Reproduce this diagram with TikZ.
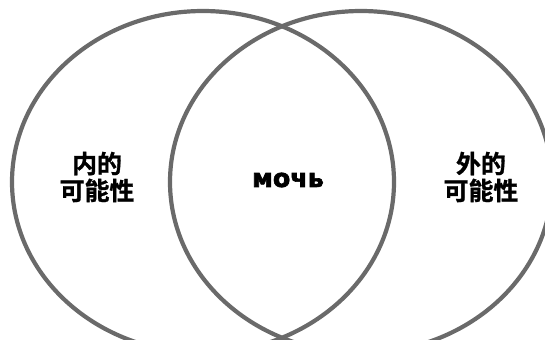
\documentclass[tikz,border=0pt]{standalone}
\usepackage{fontspec}
\newfontfamily\cjk{Noto Sans CJK SC Bold}[FakeBold=1.2]
\newfontfamily\heavy{DejaVu Sans Bold}[FakeBold=2.5]
\definecolor{ring}{HTML}{6A6A6A}
\tikzset{
  ring/.style={draw=ring, line width=4.2bp},
  cjklabel/.style={font=\cjk\fontsize{25}{27}\selectfont, align=center, inner sep=0pt},
  midlabel/.style={font=\heavy\fontsize{25.5}{28}\selectfont, inner sep=0pt}
}
\begin{document}
\begin{tikzpicture}[x=1bp,y=-1bp]
\useasboundingbox (0,0) rectangle (545,339);
\begin{scope}
\clip (0,0) rectangle (545,339);
\draw[ring] (203,182) ellipse [x radius=191, y radius=171];
\draw[ring] (361,182) ellipse [x radius=191, y radius=171];
\end{scope}
\node[cjklabel] (inner) at (97,177) {内的\\可能性};
\node[midlabel] (mid) at (288,180) {мочь};
\node[cjklabel] (outer) at (481,177) {外的\\可能性};
\end{tikzpicture}
\end{document}
